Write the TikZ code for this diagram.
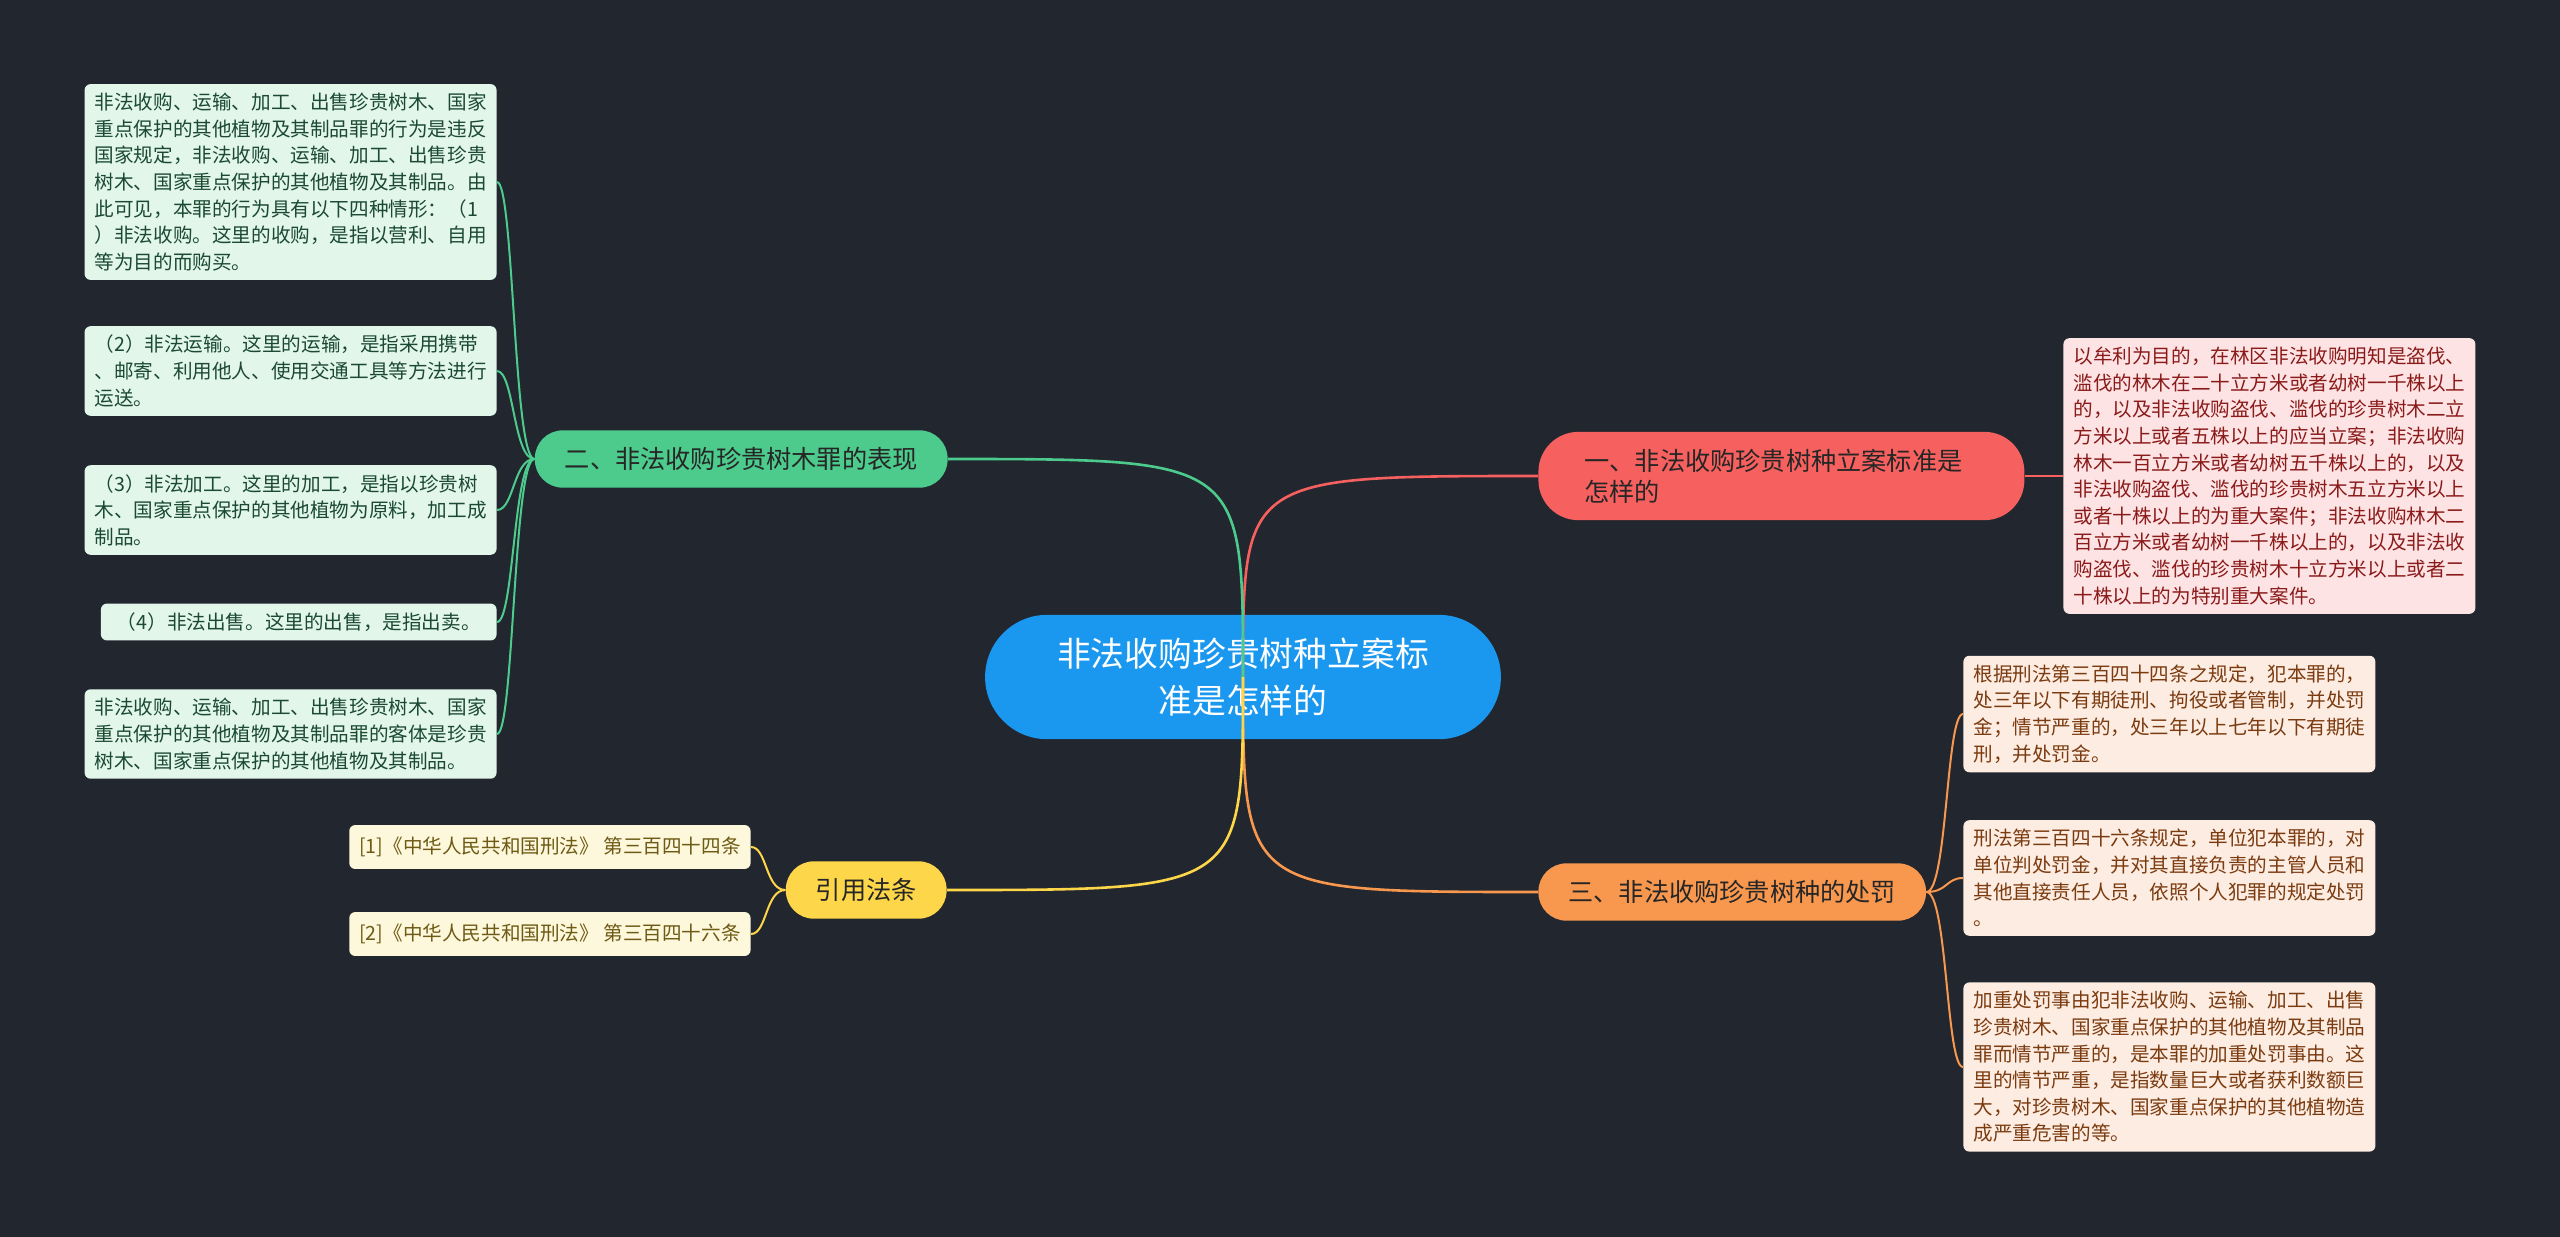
\documentclass[tikz,border=0pt]{standalone}
\usepackage{fontspec}
\setmainfont{Noto Sans CJK SC}
\usetikzlibrary{positioning}

\definecolor{bgcol}{HTML}{22262F}
\definecolor{rootcol}{HTML}{1A97EE}
\definecolor{redcol}{HTML}{F6605E}
\definecolor{greencol}{HTML}{4CCB8D}
\definecolor{orangecol}{HTML}{F8984F}
\definecolor{yellowcol}{HTML}{FDD649}
\definecolor{redleaf}{HTML}{FDE3E3}
\definecolor{greenleaf}{HTML}{E2F6EA}
\definecolor{orangeleaf}{HTML}{FDECE1}
\definecolor{yellowleaf}{HTML}{FDF7DB}
\definecolor{redtext}{HTML}{8B1A1A}
\definecolor{greentext}{HTML}{1B4A30}
\definecolor{orangetext}{HTML}{7B3B10}
\definecolor{yellowtext}{HTML}{6D5A14}

\tikzset{
  rootnode/.style={fill=rootcol, text=white, rounded corners=31pt, inner xsep=36pt, inner ysep=11.5pt, align=center, font=\fontsize{16.9}{23.5}\selectfont},
  branch/.style={rounded corners=14pt, inner xsep=15pt, inner ysep=8.5pt, align=left, text=black!85, font=\fontsize{12.6}{15.5}\selectfont},
  leaf/.style={rounded corners=3pt, inner xsep=5pt, inner ysep=4.5pt, align=left, font=\fontsize{9.8}{13.3}\selectfont},
  link/.style={line width=1.3pt},
  twig/.style={line width=1pt},
}

\begin{document}
\begin{tikzpicture}[x=0.5pt,y=-0.5pt]

	\fill[bgcol] (0,0) rectangle (2560,1237);
	\useasboundingbox (0,0) rectangle (2560,1237);

	\node[rootnode] (root) at (1243,677) {非法收购珍贵树种立案标\\准是怎样的};

	\node[branch, fill=redcol, anchor=west, rounded corners=20pt, inner xsep=23pt, text width=197pt] (b1) at (1538,476) {一、非法收购珍贵树种立案标准是\\怎样的};
	\node[branch, fill=greencol, anchor=east] (b2) at (948,459) {二、非法收购珍贵树木罪的表现};
	\node[branch, fill=orangecol, anchor=west] (b3) at (1538,892) {三、非法收购珍贵树种的处罚};
	\node[branch, fill=yellowcol, anchor=east] (b4) at (947,890) {引用法条};

	\node[leaf, fill=redleaf, text=redtext, anchor=west] (r1) at (2063,476) {以牟利为目的，在林区非法收购明知是盗伐、\\滥伐的林木在二十立方米或者幼树一千株以上\\的，以及非法收购盗伐、滥伐的珍贵树木二立\\方米以上或者五株以上的应当立案；非法收购\\林木一百立方米或者幼树五千株以上的，以及\\非法收购盗伐、滥伐的珍贵树木五立方米以上\\或者十株以上的为重大案件；非法收购林木二\\百立方米或者幼树一千株以上的，以及非法收\\购盗伐、滥伐的珍贵树木十立方米以上或者二\\十株以上的为特别重大案件。};

	\node[leaf, fill=greenleaf, text=greentext, anchor=east] (g1) at (497,182) {非法收购、运输、加工、出售珍贵树木、国家\\重点保护的其他植物及其制品罪的行为是违反\\国家规定，非法收购、运输、加工、出售珍贵\\树木、国家重点保护的其他植物及其制品。由\\此可见，本罪的行为具有以下四种情形：（1\\）非法收购。这里的收购，是指以营利、自用\\等为目的而购买。};
	\node[leaf, fill=greenleaf, text=greentext, anchor=east] (g2) at (497,371) {（2）非法运输。这里的运输，是指采用携带\\、邮寄、利用他人、使用交通工具等方法进行\\运送。};
	\node[leaf, fill=greenleaf, text=greentext, anchor=east] (g3) at (497,510) {（3）非法加工。这里的加工，是指以珍贵树\\木、国家重点保护的其他植物为原料，加工成\\制品。};
	\node[leaf, fill=greenleaf, text=greentext, anchor=east, inner xsep=8pt] (g4) at (497,622) {（4）非法出售。这里的出售，是指出卖。};
	\node[leaf, fill=greenleaf, text=greentext, anchor=east] (g5) at (497,734) {非法收购、运输、加工、出售珍贵树木、国家\\重点保护的其他植物及其制品罪的客体是珍贵\\树木、国家重点保护的其他植物及其制品。};

	\node[leaf, fill=orangeleaf, text=orangetext, anchor=west] (o1) at (1963,714) {根据刑法第三百四十四条之规定，犯本罪的，\\处三年以下有期徒刑、拘役或者管制，并处罚\\金；情节严重的，处三年以上七年以下有期徒\\刑，并处罚金。};
	\node[leaf, fill=orangeleaf, text=orangetext, anchor=west] (o2) at (1963,878) {刑法第三百四十六条规定，单位犯本罪的，对\\单位判处罚金，并对其直接负责的主管人员和\\其他直接责任人员，依照个人犯罪的规定处罚\\。};
	\node[leaf, fill=orangeleaf, text=orangetext, anchor=west] (o3) at (1963,1067) {加重处罚事由犯非法收购、运输、加工、出售\\珍贵树木、国家重点保护的其他植物及其制品\\罪而情节严重的，是本罪的加重处罚事由。这\\里的情节严重，是指数量巨大或者获利数额巨\\大，对珍贵树木、国家重点保护的其他植物造\\成严重危害的等。};

	\node[leaf, fill=yellowleaf, text=yellowtext, anchor=east, inner ysep=6pt] (y1) at (751,847) {[1]《中华人民共和国刑法》 第三百四十四条};
	\node[leaf, fill=yellowleaf, text=yellowtext, anchor=east, inner ysep=6pt] (y2) at (751,934) {[2]《中华人民共和国刑法》 第三百四十六条};

	% main branches
	\draw[link, redcol] (root.center) .. controls (root.center |- b1.west) .. (b1.west);
	\draw[link, greencol] (root.center) .. controls (root.center |- b2.east) .. (b2.east);
	\draw[link, orangecol] (root.center) .. controls (root.center |- b3.west) .. (b3.west);
	\draw[link, yellowcol] (root.center) .. controls (root.center |- b4.east) .. (b4.east);

	% leaves
	\draw[twig, redcol] (b1.east) -- (r1.west);
	\foreach \g in {g1,g2,g3,g4,g5}
		\draw[twig, greencol] (b2.west) .. controls +(-21,0) and +(17,0) .. (\g.east);
	\foreach \o in {o1,o2,o3}
		\draw[twig, orangecol] (b3.east) .. controls +(21,0) and +(-17,0) .. (\o.west);
	\foreach \y in {y1,y2}
		\draw[twig, yellowcol] (b4.west) .. controls +(-20,0) and +(16,0) .. (\y.east);

\end{tikzpicture}
\end{document}
